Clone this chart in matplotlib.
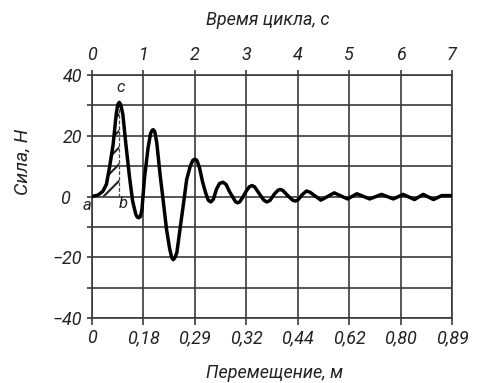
import matplotlib
matplotlib.use("Agg")
import matplotlib.pyplot as plt
import matplotlib.transforms as mtrans

plt.rcParams["hatch.linewidth"] = 1.5
plt.rcParams["hatch.color"] = "#222222"

# ---- data ----
time_s = [0, 0.12, 0.21, 0.28, 0.34, 0.41, 0.47, 0.50, 0.53, 0.56, 0.60, 0.66, 0.73, 0.79,
          0.85, 0.88, 0.91, 0.94, 0.97, 1.02, 1.09, 1.14, 1.17, 1.19, 1.22, 1.26, 1.32,
          1.39, 1.45, 1.51, 1.55, 1.58, 1.61, 1.65, 1.71, 1.78, 1.84, 1.91, 1.96, 2.00,
          2.04, 2.09, 2.15, 2.21, 2.26, 2.31, 2.36, 2.42, 2.48, 2.55, 2.61, 2.67, 2.73,
          2.79, 2.83, 2.87, 2.93, 3.00, 3.06, 3.11, 3.16, 3.25, 3.34, 3.40, 3.46, 3.55,
          3.62, 3.66, 3.71, 3.80, 3.90, 3.95, 4.00, 4.10, 4.17, 4.24, 4.45, 4.71, 4.97,
          5.15, 5.40, 5.63, 5.86, 6.05, 6.27, 6.44, 6.64, 6.80, 7.00]
force_n = [0, 0.5, 1.7, 4.0, 9.5, 17, 27, 30.2, 31, 30.2, 27, 17, 6.3, -1.5,
           -5.8, -6.8, -7.0, -6.6, -4.5, 6.0, 16, 20.8, 21.8, 22, 21.4, 17.6, 7.8,
           -2.2, -10.9, -17.2, -20.1, -20.8, -20.2, -18.5, -10.9, -2.2, 5.5, 10, 11.9, 12.3,
           11.9, 9.5, 4.8, 1.2, -1.2, -1.8, -0.9, 2.4, 4.3, 4.7, 3.9, 1.7, 0.0,
           -1.7, -2.1, -1.8, -0.3, 1.8, 3.2, 3.6, 3.2, 1.0, -1.2, -1.8, -1.3, 0.9,
           2.1, 2.3, 2.0, 0.4, -1.2, -1.5, -1.2, 0.8, 1.8, 1.4, -1.2, 1.2, -0.8,
           0.9, -0.8, 0.7, -0.8, 0.7, -1.0, 0.7, -1.0, 0.3, 0.3]

time_ticks = [0, 1, 2, 3, 4, 5, 6, 7]
time_labels = ["0", "1", "2", "3", "4", "5", "6", "7"]
disp_labels = ["0", "0,18", "0,29", "0,32", "0,44", "0,62", "0,80", "0,89"]
force_ticks = [-40, -20, 0, 20, 40]
force_labels = ["\u221240", "\u221220", "0", "20", "40"]
force_minor = [-30, -10, 10, 30]
peak_t = 0.53
peak_f = 31

W, H = 480, 383
fig = plt.figure(figsize=(W / 100, H / 100), dpi=100)
ax = fig.add_axes([92 / W, 1 - 318 / H, 360 / W, 243 / H])

FONT = dict(family=["Roboto", "DejaVu Sans"], style="italic", weight="normal",
            color="#222222")
GRID_C = "#3a3a3a"
GLW = 1.2

ax.set_xlim(0, 7)
ax.set_ylim(-40, 40)
for s in ax.spines.values():
    s.set_color(GRID_C)
    s.set_linewidth(GLW)

ax.set_xticks(time_ticks)
ax.set_xticklabels(disp_labels, fontsize=13, **FONT)
ax.set_yticks(force_ticks)
ax.set_yticklabels(force_labels, fontsize=13, **FONT)
ax.set_yticks(force_minor, minor=True)
ax.grid(True, which="both", color=GRID_C, linewidth=GLW)
ax.tick_params(axis="x", which="both", direction="out", length=5, width=GLW,
               color=GRID_C, pad=3)
ax.tick_params(axis="y", which="both", direction="out", length=3.6, width=GLW,
               color=GRID_C, pad=3.5)

# move the "0" label on y further left
for lab in ax.get_yticklabels():
    if lab.get_text() == "0":
        lab.set_transform(lab.get_transform() +
                          mtrans.ScaledTranslation(-12 / 100, 0, fig.dpi_scale_trans))

top = ax.secondary_xaxis("top")
top.set_xticks(time_ticks)
top.set_xticklabels(time_labels, fontsize=13, **FONT)
top.tick_params(direction="out", length=3.6, width=GLW, color=GRID_C, pad=4)
top.spines["top"].set_visible(False)

# hatched area
sel_t = [t for t in time_s if t <= peak_t]
sel_f = force_n[:len(sel_t)]
ax.fill_between(sel_t, sel_f, 0, facecolor="none", edgecolor="#222222",
                hatch="//", linewidth=0, zorder=3)
ax.plot([peak_t, peak_t], [0, peak_f], color="#444444", lw=0.9, ls=(0, (3, 1.5)))

ax.plot(time_s, force_n, color="black", lw=2.5, solid_joinstyle="round",
        solid_capstyle="round", zorder=5)

ax.text(peak_t + 0.02, peak_f + 2.5, "c", fontsize=12, ha="center", va="bottom", **FONT)
fig.text(87 / W, 1 - 205 / H, "a", fontsize=12, ha="center", va="center", **FONT)
fig.text(123 / W, 1 - 203 / H, "b", fontsize=12, ha="center", va="center", **FONT)

fig.text(268 / W, 1 - 20 / H, "Время цикла, с", fontsize=13, ha="center", va="center", **FONT)
fig.text(275 / W, 1 - 373 / H, "Перемещение, м", fontsize=13, ha="center", va="center", **FONT)
fig.text(22 / W, 1 - 162 / H, "Сила, Н", fontsize=14, rotation=90, ha="center",
         va="center", **FONT)

fig.savefig("out.png", dpi=100)
